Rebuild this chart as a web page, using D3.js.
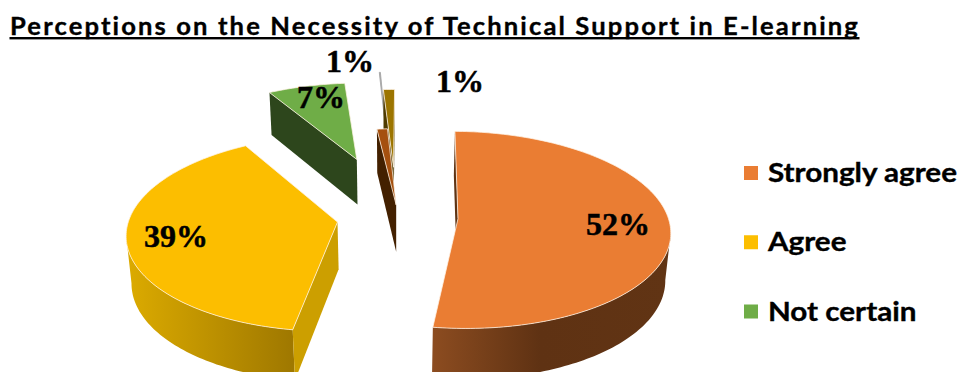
<!DOCTYPE html>
<html>
<head>
<meta charset="utf-8">
<script src="https://cdn.jsdelivr.net/npm/d3@7"></script>
<style>
  html, body { margin: 0; padding: 0; background: #fff; overflow: hidden; }
  svg { display: block; }
</style>
</head>
<body>
<div id="chart"></div>
<script>
// Survey shares, in drawing order around the pie
const titleText = "Perceptions on the Necessity of Technical Support in E-learning";
const legendLabels = ["Strongly agree", "Agree", "Not certain"];
const sliceValues = [52, 39, 7, 1, 0.1, 1];
const sliceLabels = ["52%", "39%", "7%", "1%", null, "1%"];

// Per-slice styling
const topColors = ["#ea7d33", "#fcbe00", "#6fad47", "#a5500f", "#a6a6a6", "#9c7500"];
const edgeColors = ["#5f3414", "#cc9f00", "#2d461c", "#432000", "#a6a6a6", "#4e3b00"];
const rimStops = [
  [["0%", "#8c4c20"], ["45%", "#5f3213"], ["100%", "#613414"]],
  [["0%", "#dcab00"], ["100%", "#9f7800"]],
  [["0%", "#2d461c"], ["100%", "#2d461c"]],
  [["0%", "#432000"], ["100%", "#432000"]],
  [["0%", "#a6a6a6"], ["100%", "#a6a6a6"]],
  [["0%", "#4e3b00"], ["100%", "#4e3b00"]]
];
// How far each wedge is pulled out, and small per-wedge corrections (degrees, radius factor)
const explode = [0.30, 0.278, 0.661, 0.12, 0.79, 0.54];
const explodeTurn = [0, 0, 2, 7.5, 0, 0];
const wedgeSpin = [0, 1.2, 1.5, 0, 0, -0.7];
const wedgeRadius = [1, 0.99, 1, 0.89, 1, 1];
const paintOrder = [4, 5, 2, 3, 1, 0];
const labelAnchors = [[618, 235], [176, 247], [321, 108], [350, 72], null, [460, 92]];

const width = 963, height = 372;
const rotation = 1.0 * Math.PI / 180;
const rad = Math.PI / 180;

// Perspective camera for the tilted disc
const cam = { cx: 395, cy: 216.5, rx: 210, ry: 96.8, depth: 48, k: 0.1123, m: 0.02 };
function project(X, Y, Z) {
  const w = 1 + cam.k * Y + cam.m * Z;
  return [cam.cx + cam.rx * X / w, cam.cy + (cam.depth * Z - cam.ry * Y) / w];
}

const svg = d3.select("#chart").append("svg").attr("width", width).attr("height", height);
const defs = svg.append("defs");
const line = d3.line();

const arcs = d3.pie().sort(null).startAngle(rotation).endAngle(rotation + 2 * Math.PI)(sliceValues);

const slices = arcs.map((d, i) => {
  const mid = (d.startAngle + d.endAngle) / 2 + explodeTurn[i] * rad;
  const ox = explode[i] * Math.sin(mid), oy = explode[i] * Math.cos(mid);
  const start = d.startAngle + wedgeSpin[i] * rad, end = d.endAngle + wedgeSpin[i] * rad;
  const steps = Math.max(2, Math.ceil((end - start) / 0.02));
  const angles = d3.range(steps + 1).map(s => start + (end - start) * s / steps);
  const r = wedgeRadius[i];
  const rim = z => angles.map(a => project(ox + r * Math.sin(a), oy + r * Math.cos(a), z));
  return { i, apexTop: project(ox, oy, 0), apexBot: project(ox, oy, 1), rimTop: rim(0), rimBot: rim(1) };
});

const pieGroup = svg.append("g");
paintOrder.forEach(i => {
  const s = slices[i];
  const g = pieGroup.append("g");
  const n = s.rimTop.length - 1;

  // Outer wall: only the stretch of rim that faces the camera
  const front = d3.range(n).filter(j => s.rimTop[j + 1][0] < s.rimTop[j][0]);
  if (front.length) {
    const idx = [...front, front[front.length - 1] + 1];
    const xs = d3.extent(idx, j => s.rimTop[j][0]);
    const grad = defs.append("linearGradient").attr("id", "rim" + i)
      .attr("gradientUnits", "userSpaceOnUse")
      .attr("x1", xs[0]).attr("x2", xs[1]).attr("y1", 0).attr("y2", 0);
    rimStops[i].forEach(st => grad.append("stop").attr("offset", st[0]).attr("stop-color", st[1]));
    const poly = [...idx.map(j => s.rimTop[j]), ...idx.slice().reverse().map(j => s.rimBot[j])];
    if (i !== 4) g.append("path").attr("d", line(poly) + "Z").attr("fill", `url(#rim${i})`);
  }

  // Cut faces along the radial edges, when turned towards the camera
  if (i !== 4 && s.rimTop[0][0] < s.apexTop[0]) {
    g.append("path")
      .attr("d", line([s.apexTop, s.rimTop[0], s.rimBot[0], s.apexBot]) + "Z")
      .attr("fill", edgeColors[i]);
  }
  if (i !== 4 && s.rimTop[n][0] > s.apexTop[0]) {
    g.append("path")
      .attr("d", line([s.apexTop, s.rimTop[n], s.rimBot[n], s.apexBot]) + "Z")
      .attr("fill", edgeColors[i]);
  }

  // Top face with its pale bevel line
  g.append("path")
    .attr("d", line([s.apexTop, ...s.rimTop]) + "Z")
    .attr("fill", topColors[i])
    .attr("stroke", i === 4 ? "#a6a6a6" : "#fff3e6")
    .attr("stroke-opacity", i === 4 ? 1 : 0.85)
    .attr("stroke-width", 0.9)
    .attr("stroke-linejoin", "round");
});

// Percentage labels
sliceLabels.forEach((t, i) => {
  if (!t) return;
  svg.append("text")
    .attr("x", labelAnchors[i][0]).attr("y", labelAnchors[i][1])
    .attr("text-anchor", "middle")
    .attr("font-family", "'Liberation Serif', serif")
    .attr("font-weight", 700).attr("font-size", 32)
    .attr("fill", "#000").attr("stroke", "#000").attr("stroke-width", 0.5)
    .text(t);
});

// Title with a rule drawn under it
const title = svg.append("text")
  .attr("x", 10).attr("y", 34.5)
  .attr("font-family", "Lato, sans-serif")
  .attr("font-weight", 700).attr("font-size", 24)
  .attr("letter-spacing", 2)
  .attr("textLength", 850).attr("lengthAdjust", "spacingAndGlyphs")
  .attr("fill", "#000").attr("stroke", "#000").attr("stroke-width", 0.35)
  .text(titleText);
svg.append("rect")
  .attr("x", 9.5).attr("y", 37)
  .attr("width", title.node().getComputedTextLength())
  .attr("height", 2.4)
  .attr("fill", "#000");

// Legend, clipped by the lower edge of the page as the pie is
const legendY = d3.scalePoint().domain(legendLabels).range([173, 311.5]);
const legendScaleX = 1.14;
legendLabels.forEach((t, i) => {
  const y = legendY(t);
  svg.append("rect").attr("x", 744).attr("y", y - 7).attr("width", 14).attr("height", 14)
    .attr("fill", topColors[i]);
  svg.append("text").attr("transform", `translate(768,${y + 9}) scale(${legendScaleX},1)`)
    .attr("font-family", "Lato, sans-serif")
    .attr("font-weight", 700).attr("font-size", 26)
    .attr("fill", "#000").attr("stroke", "#000").attr("stroke-width", 0.35)
    .text(t);
});
</script>
</body>
</html>
